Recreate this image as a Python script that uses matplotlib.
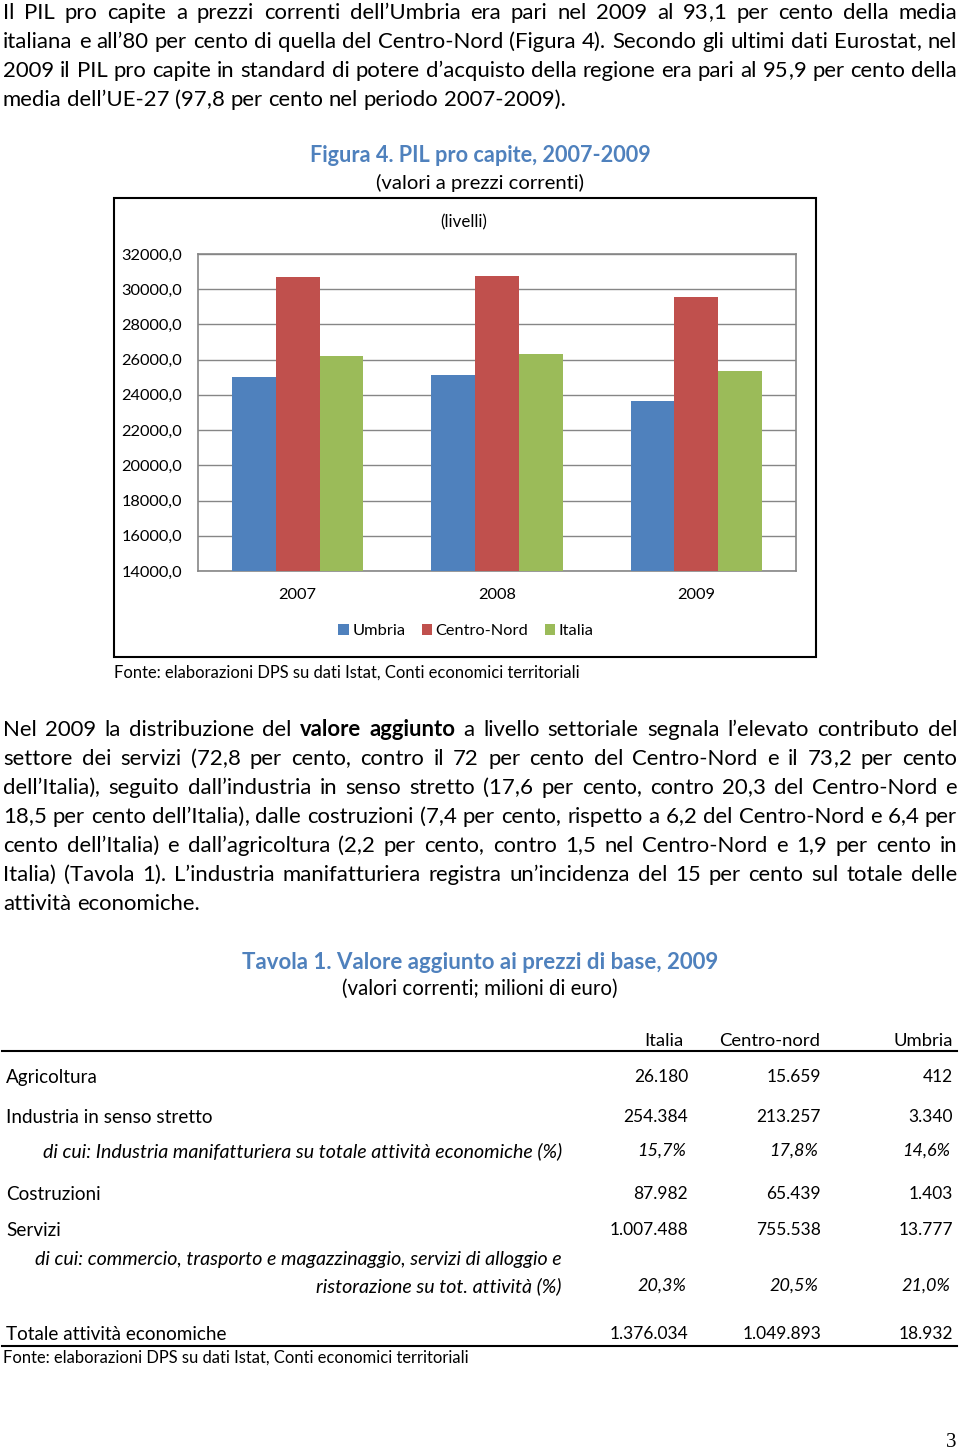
import re
import matplotlib
matplotlib.use('Agg')
import matplotlib.pyplot as plt
import numpy as np
from matplotlib.transforms import IdentityTransform
from matplotlib.patches import Rectangle
from matplotlib.lines import Line2D

W, H = 960, 1451
FONT = ['Lato', 'DejaVu Sans']
BLU_TITOLO = '#4F81BD'

# dati figura 4
anni = ['2007', '2008', '2009']
umbria = [25000, 25130, 23640]
centro_nord = [30720, 30760, 29570]
italia = [26210, 26330, 25360]
serie = ['Umbria', 'Centro-Nord', 'Italia']
colori = ['#4F81BD', '#C0504D', '#9BBB59']
yticks = [14000, 16000, 18000, 20000, 22000, 24000, 26000, 28000, 30000, 32000]

# dati tavola 1
tab_colonne = ['Italia', 'Centro-nord', 'Umbria']
tab_righe = ['Agricoltura', 'Industria in senso stretto', 'Costruzioni', 'Servizi',
             'Totale attività economiche']
tab_italia = ['26.180', '254.384', '87.982', '1.007.488', '1.376.034']
tab_cnord = ['15.659', '213.257', '65.439', '755.538', '1.049.893']
tab_umbria = ['412', '3.340', '1.403', '13.777', '18.932']
quota_manif = ['15,7%', '17,8%', '14,6%']
quota_comm = ['20,3%', '20,5%', '21,0%']

fonte = 'Fonte: elaborazioni DPS su dati Istat, Conti economici territoriali'

par1 = [
    'Il PIL pro capite a prezzi correnti dell’Umbria era pari nel 2009 al 93,1 per cento della media',
    'italiana e all’80 per cento di quella del Centro-Nord (Figura 4). Secondo gli ultimi dati Eurostat, nel',
    '2009 il PIL pro capite in standard di potere d’acquisto della regione era pari al 95,9 per cento della',
    'media dell’UE-27 (97,8 per cento nel periodo 2007-2009).',
]
# '*' davanti alla parola = grassetto
par2 = [
    'Nel 2009 la distribuzione del *valore *aggiunto a livello settoriale segnala l’elevato contributo del',
    'settore dei servizi (72,8 per cento, contro il 72 per cento del Centro-Nord e il 73,2 per cento',
    'dell’Italia), seguito dall’industria in senso stretto (17,6 per cento, contro 20,3 del Centro-Nord e',
    '18,5 per cento dell’Italia), dalle costruzioni (7,4 per cento, rispetto a 6,2 del Centro-Nord e 6,4 per',
    'cento dell’Italia) e dall’agricoltura (2,2 per cento, contro 1,5 nel Centro-Nord e 1,9 per cento in',
    'Italia) (Tavola 1). L’industria manifatturiera registra un’incidenza del 15 per cento sul totale delle',
    'attività economiche.',
]

fig = plt.figure(figsize=(W / 100, H / 100), dpi=100)
ren = fig.canvas.get_renderer()


def put(x, y, s, size, **kw):
    # y = centro visivo della riga (pixel dall'alto); si disegna sulla baseline
    kw.setdefault('family', FONT)
    base = round(y + 0.3 * size * 100 / 72)
    return fig.text(x, H - base, s, transform=IdentityTransform(), fontsize=size,
                    va='baseline', **kw)


def larghezza(t):
    return t.get_window_extent(ren).width


def riga(y, testo, x0, x1, size, giustifica=True):
    # ogni parola e' spezzata sulle virgole, che altrimenti spostano la parola in basso
    parole = []
    for p in testo.split(' '):
        wt = 'bold' if p.startswith('*') else 'normal'
        pezzi = [s for s in re.split(r'(,)', p.lstrip('*')) if s]
        arts = [put(0, y, s, size, weight=wt) for s in pezzi]
        parole.append((arts, [larghezza(a) for a in arts]))
    larg = [sum(lw) for _, lw in parole]
    t1 = put(0, y, 'a a', size)
    t2 = put(0, y, 'aa', size)
    spazio = larghezza(t1) - larghezza(t2)
    t1.remove()
    t2.remove()
    if giustifica and len(parole) > 1:
        spazio = (x1 - x0 - sum(larg)) / (len(parole) - 1)
    x = x0
    for arts, lw in parole:
        for a, w in zip(arts, lw):
            a.set_x(x)
            x += w
        x += spazio


def paragrafo(y0, righe, size, passo=29):
    for i, r in enumerate(righe):
        riga(y0 + i * passo, r, 3, 957, size, giustifica=(i < len(righe) - 1))


paragrafo(12, par1, 15.9)

# ---- figura 4 ----
put(480, 156, 'Figura 4. PIL pro capite, 2007-2009', 15.6, weight='bold',
    color=BLU_TITOLO, ha='center')
put(480, 183, '(valori a prezzi correnti)', 14.6, ha='center')
fig.add_artist(Rectangle((114, H - 657), 702, 459, transform=IdentityTransform(),
                         fill=False, ec='black', lw=1.5))
put(464, 222, '(livelli)', 12.2, ha='center')

ax = fig.add_axes([198 / W, 1 - 571 / H, (796 - 198) / W, (571 - 254) / H])
x = np.arange(len(anni))
bw = 0.22
for k, (vals, nome, col) in enumerate(zip([umbria, centro_nord, italia], serie, colori)):
    ax.bar(x + (k - 1) * bw, vals, bw, color=col, label=nome, zorder=3)
ax.set_xlim(-0.5, len(anni) - 0.5)
ax.set_ylim(yticks[0], yticks[-1])
ax.set_yticks(yticks)
ax.set_yticklabels([f'{v},0' for v in yticks], family=FONT, fontsize=11.8)
ax.set_xticks(x)
ax.set_xticklabels(anni, family=FONT, fontsize=11.8)
ax.tick_params(axis='y', length=0, pad=11.5)
ax.tick_params(axis='x', length=0, pad=12)
ax.grid(axis='y', color='#868686', lw=1, zorder=0)
for s in ax.spines.values():
    s.set_color('#868686')
    s.set_linewidth(1.2)
ax.legend(loc='center', bbox_to_anchor=(466 / W, 1 - 631 / H), bbox_transform=fig.transFigure,
          ncol=3, frameon=False, handlelength=0.65, handleheight=0.65, handletextpad=0.2,
          columnspacing=1.0, prop={'family': FONT, 'size': 11.8})
put(114, 673, fonte, 11.9)

paragrafo(729, par2, 15.9)

# ---- tavola 1 ----
put(480, 962, 'Tavola 1. Valore aggiunto ai prezzi di base, 2009', 16, weight='bold',
    color=BLU_TITOLO, ha='center')
put(480, 989, '(valori correnti; milioni di euro)', 14.8, ha='center')

x_num = [688, 821, 953]
x_int = [684, 820, 953]
x_perc = [686, 818, 950]
for xc, c in zip(x_int, tab_colonne):
    put(xc, 1040, c, 13.3, ha='right')
fig.add_artist(Line2D([2, 957], [H - 1051, H - 1051], transform=IdentityTransform(),
                      color='black', lw=1.5))

y_righe = [1077, 1117, 1194, 1230, 1334]
for i, (yr, lab) in enumerate(zip(y_righe, tab_righe)):
    put(6, yr, lab, 13.6)
    for xc, col in zip(x_num, [tab_italia, tab_cnord, tab_umbria]):
        put(xc, yr, col[i], 12.5, ha='right')

put(562, 1151, 'di cui: Industria manifatturiera su totale attività economiche (%)', 14.1,
    style='italic', ha='right')
for xc, v in zip(x_perc, quota_manif):
    put(xc, 1151, v, 13, style='italic', ha='right')
put(562, 1259, 'di cui: commercio, trasporto e magazzinaggio, servizi di alloggio e', 14.1,
    style='italic', ha='right')
put(562, 1286, 'ristorazione su tot. attività (%)', 14.1, style='italic', ha='right')
for xc, v in zip(x_perc, quota_comm):
    put(xc, 1286, v, 13, style='italic', ha='right')

fig.add_artist(Line2D([2, 957], [H - 1346, H - 1346], transform=IdentityTransform(),
                      color='black', lw=1.5))
put(3, 1358, fonte, 11.9)

put(951, 1441, '3', 15, family='Liberation Serif', ha='center')

fig.savefig('out.png', dpi=100)
